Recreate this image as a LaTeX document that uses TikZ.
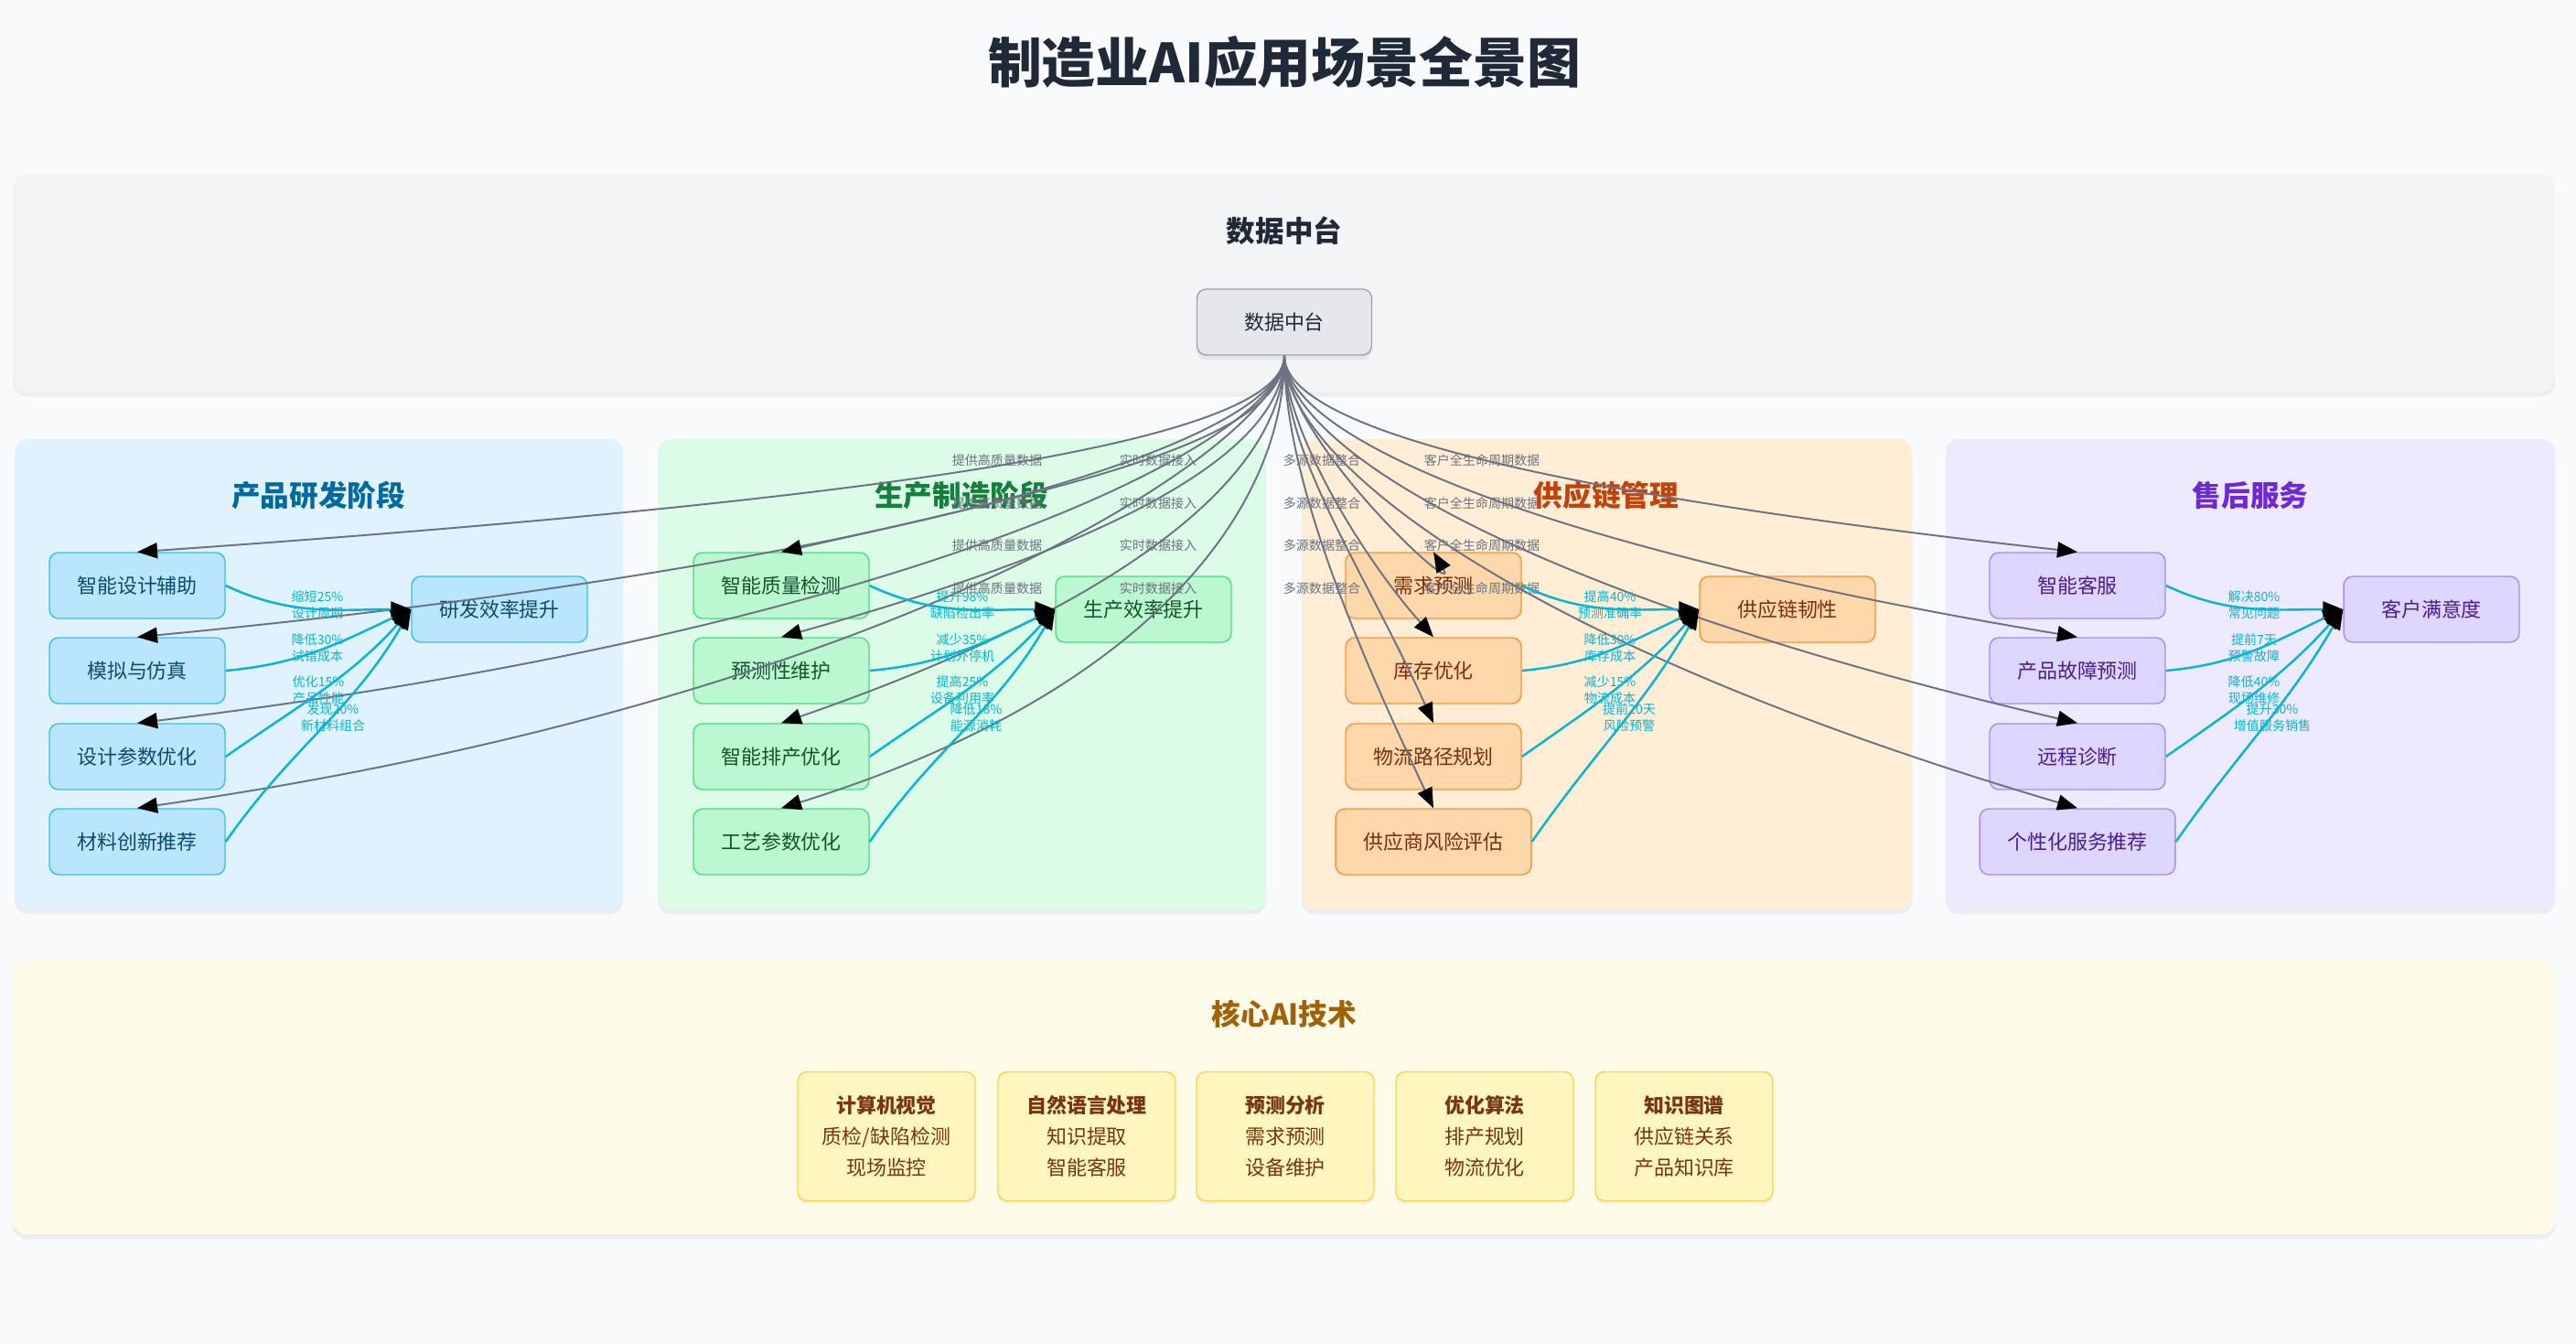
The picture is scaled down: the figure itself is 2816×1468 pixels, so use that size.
\documentclass[tikz,border=0pt]{standalone}
\usepackage{fontspec}
\setmainfont{Noto Sans CJK SC}
\usetikzlibrary{arrows.meta, positioning, shadows}
\definecolor{pagebg}{RGB}{248,250,252}
\definecolor{darkslate}{RGB}{31,41,55}
\definecolor{hubpanel}{RGB}{243,244,246}
\definecolor{hubfill}{RGB}{229,231,235}
\definecolor{hubline}{RGB}{156,163,175}
\definecolor{feedgray}{RGB}{107,114,128}
\definecolor{gaincyan}{RGB}{6,182,212}
\definecolor{rdpanel}{RGB}{224,242,254}
\definecolor{rdfill}{RGB}{186,230,253}
\definecolor{rdline}{RGB}{56,189,248}
\definecolor{rdtitle}{RGB}{3,105,161}
\definecolor{rdtext}{RGB}{12,74,110}
\definecolor{mfpanel}{RGB}{220,252,231}
\definecolor{mffill}{RGB}{187,247,208}
\definecolor{mfline}{RGB}{74,222,128}
\definecolor{mftitle}{RGB}{21,128,61}
\definecolor{mftext}{RGB}{20,83,45}
\definecolor{scpanel}{RGB}{255,237,213}
\definecolor{scfill}{RGB}{254,215,170}
\definecolor{scline}{RGB}{251,146,60}
\definecolor{sctitle}{RGB}{194,65,12}
\definecolor{sctext}{RGB}{124,45,18}
\definecolor{aspanel}{RGB}{237,233,254}
\definecolor{asfill}{RGB}{221,214,254}
\definecolor{asline}{RGB}{167,139,250}
\definecolor{astitle}{RGB}{109,40,217}
\definecolor{astext}{RGB}{76,29,149}
\definecolor{aipanel}{RGB}{254,252,232}
\definecolor{aifill}{RGB}{254,246,190}
\definecolor{ailine}{RGB}{252,211,77}
\definecolor{aititle}{RGB}{161,98,7}
\definecolor{aitext}{RGB}{120,53,15}

\begin{document}
\begin{tikzpicture}[
    % Global Styles
    x=0.02cm, y=-0.02cm,
    % Panel Styles
    panel/.style={
        rounded corners=0.3cm,
        drop shadow={opacity=0.10, shadow xshift=0pt, shadow yshift=-3pt}
    },
    paneltitle/.style={
        font=\fontsize{18}{22}\selectfont\bfseries
    },
    % Node Styles
    scenario/.style={
        rectangle, 
        rounded corners=0.2cm, 
        line width=0.8pt, 
        minimum width=3.84cm, 
        minimum height=1.44cm, 
        inner xsep=0.6cm, 
        font=\fontsize{12.5}{15}\selectfont
    },
    rdbox/.style={scenario, fill=rdfill, draw=rdline, text=rdtext},
    mfbox/.style={scenario, fill=mffill, draw=mfline, text=mftext},
    scbox/.style={scenario, fill=scfill, draw=scline, text=sctext},
    asbox/.style={scenario, fill=asfill, draw=asline, text=astext},
    techbox/.style={
        rectangle, 
        rounded corners=0.2cm, 
        fill=aifill, 
        draw=ailine, 
        line width=0.8pt, 
        minimum width=3.88cm, 
        minimum height=2.82cm, 
        align=center, 
        text=aitext, 
        font=\fontsize{12.5}{19.3}\selectfont,
        drop shadow={opacity=0.10, shadow xshift=0pt, shadow yshift=-2pt}
    },
    % Label Styles
    feedlabel/.style={
        text=feedgray, 
        inner sep=0pt, 
        font=\fontsize{8}{10}\selectfont
    },
    gainlabel/.style={
        text=gaincyan, 
        align=center, 
        inner sep=0pt, 
        font=\fontsize{8}{10.2}\selectfont
    },
    % Connector Styles
    feed/.style={
        draw=feedgray, 
        line width=1.1pt, 
        -{Triangle[length=0.44cm, width=0.34cm, color=black]}
    },
    gain/.style={
        draw=gaincyan, 
        line width=1.4pt, 
        -{Triangle[length=0.44cm, width=0.34cm, color=black]}
    }
]

    % --- Canvas ---
    \useasboundingbox[fill=pagebg] (0,0) rectangle (2816,1468);
    \node[font=\fontsize{33.5}{38}\selectfont\bfseries, text=darkslate] (title) at (1404,68) {制造业AI应用场景全景图};

    % --- Panels ---
    \fill[panel, hubpanel] (14,190) rectangle (2793,428);
    \fill[panel, rdpanel] (16,480) rectangle (681,994);
    \fill[panel, mfpanel] (719,480) rectangle (1384,994);
    \fill[panel, scpanel] (1423,480) rectangle (2090,994);
    \fill[panel, aspanel] (2127,480) rectangle (2793,994);
    \fill[panel, aipanel] (14,1049) rectangle (2793,1349);

    \node[paneltitle, text=darkslate] (hubtitle) at (1404,252) {数据中台};
    \node[paneltitle, text=rdtitle] (rdtitle) at (348,541) {产品研发阶段};
    \node[paneltitle, text=mftitle] (mftitle) at (1051,541) {生产制造阶段};
    \node[paneltitle, text=sctitle] (sctitle) at (1756,541) {供应链管理};
    \node[paneltitle, text=astitle] (astitle) at (2460,541) {售后服务};
    \node[paneltitle, text=aititle] (aititle) at (1404,1108) {核心AI技术};

    % --- Data Hub ---
    \node[scenario, fill=hubfill, draw=hubline, text=darkslate, minimum width=3.82cm,
        drop shadow={opacity=0.12, shadow xshift=0pt, shadow yshift=-3pt}] (d0) at (1404,352) {数据中台};

    % --- Stage 1: R&D ---
    \node[rdbox] (s1a) at (150,640) {智能设计辅助};
    \node[rdbox] (s1b) at (150,733) {模拟与仿真};
    \node[rdbox] (s1c) at (150,827) {设计参数优化};
    \node[rdbox] (s1d) at (150,920) {材料创新推荐};
    \node[rdbox] (r1) at (546,666) {研发效率提升};

    % --- Stage 2: Manufacturing ---
    \node[mfbox] (s2a) at (854,640) {智能质量检测};
    \node[mfbox] (s2b) at (854,733) {预测性维护};
    \node[mfbox] (s2c) at (854,827) {智能排产优化};
    \node[mfbox] (s2d) at (854,920) {工艺参数优化};
    \node[mfbox] (r2) at (1250,666) {生产效率提升};

    % --- Stage 3: Supply Chain ---
    \node[scbox] (s3a) at (1567,640) {需求预测};
    \node[scbox] (s3b) at (1567,733) {库存优化};
    \node[scbox] (s3c) at (1567,827) {物流路径规划};
    \node[scbox] (s3d) at (1567,920) {供应商风险评估};
    \node[scbox] (r3) at (1954,666) {供应链韧性};

    % --- Stage 4: After-sales ---
    \node[asbox] (s4a) at (2271,640) {智能客服};
    \node[asbox] (s4b) at (2271,733) {产品故障预测};
    \node[asbox] (s4c) at (2271,827) {远程诊断};
    \node[asbox] (s4d) at (2271,920) {个性化服务推荐};
    \node[asbox] (r4) at (2658,666) {客户满意度};

    % --- Core AI ---
    \node[techbox] (t1) at (969,1242) {\textbf{计算机视觉}\\质检/缺陷检测\\现场监控};
    \node[techbox] (t2) at (1188,1242) {\textbf{自然语言处理}\\知识提取\\智能客服};
    \node[techbox] (t3) at (1405,1242) {\textbf{预测分析}\\需求预测\\设备维护};
    \node[techbox] (t4) at (1623,1242) {\textbf{优化算法}\\排产规划\\物流优化};
    \node[techbox] (t5) at (1841,1242) {\textbf{知识图谱}\\供应链关系\\产品知识库};

    % --- Data feeds ---
    \draw[feed] (d0.south) .. controls (1404,480) and (1000,544) .. (s1a.north);
    \draw[feed] (d0.south) .. controls (1404,480) and (1000,615) .. (s1b.north);
    \draw[feed] (d0.south) .. controls (1404,480) and (1000,688) .. (s1c.north);
    \draw[feed] (d0.south) .. controls (1404,480) and (1000,761) .. (s1d.north);
    \draw[feed] (d0.south) .. controls (1404,480) and (1180,530) .. (s2a.north);
    \draw[feed] (d0.south) .. controls (1404,500) and (1200,600) .. (s2b.north);
    \draw[feed] (d0.south) .. controls (1404,520) and (1230,660) .. (s2c.north);
    \draw[feed] (d0.south) .. controls (1404,560) and (1250,760) .. (s2d.north);
    \draw[feed] (d0.south) .. controls (1404,480) and (1600,660) .. (s3a.north);
    \draw[feed] (d0.south) .. controls (1404,470) and (1490,610) .. (s3b.north);
    \draw[feed] (d0.south) .. controls (1404,500) and (1490,620) .. (s3c.north);
    \draw[feed] (d0.south) .. controls (1404,520) and (1480,700) .. (s3d.north);
    \draw[feed] (d0.south) .. controls (1404,470) and (1700,540) .. (s4a.north);
    \draw[feed] (d0.south) .. controls (1404,480) and (1690,600) .. (s4b.north);
    \draw[feed] (d0.south) .. controls (1404,490) and (1670,650) .. (s4c.north);
    \draw[feed] (d0.south) .. controls (1404,500) and (1650,700) .. (s4d.north);

    \node[feedlabel] (q1a) at (1090,503) {提供高质量数据};
    \node[feedlabel] (q1b) at (1090,550) {提供高质量数据};
    \node[feedlabel] (q1c) at (1090,596) {提供高质量数据};
    \node[feedlabel] (q1d) at (1090,643) {提供高质量数据};
    \node[feedlabel] (q2a) at (1266,503) {实时数据接入};
    \node[feedlabel] (q2b) at (1266,550) {实时数据接入};
    \node[feedlabel] (q2c) at (1266,596) {实时数据接入};
    \node[feedlabel] (q2d) at (1266,643) {实时数据接入};
    \node[feedlabel] (q3a) at (1445,503) {多源数据整合};
    \node[feedlabel] (q3b) at (1445,550) {多源数据整合};
    \node[feedlabel] (q3c) at (1445,596) {多源数据整合};
    \node[feedlabel] (q3d) at (1445,643) {多源数据整合};
    \node[feedlabel] (q4a) at (1620,503) {客户全生命周期数据};
    \node[feedlabel] (q4b) at (1620,550) {客户全生命周期数据};
    \node[feedlabel] (q4c) at (1620,596) {客户全生命周期数据};
    \node[feedlabel] (q4d) at (1620,643) {客户全生命周期数据};

    % --- Gains: R&D ---
    \draw[gain] (s1a.east) to[out=-25, in=180] (r1.west);
    \draw[gain] (s1b.east) to[out=5, in=205] (r1.west);
    \draw[gain] (s1c.east) to[out=35, in=228] (r1.west);
    \draw[gain] (s1d.east) to[out=55, in=240] (r1.west);
    \node[gainlabel] (k1a) at (347,661) {缩短25\%\\设计周期};
    \node[gainlabel] (k1b) at (347,708) {降低30\%\\试错成本};
    \node[gainlabel] (k1c) at (348,754) {优化15\%\\产品性能};
    \node[gainlabel] (k1d) at (364,784) {发现20\%\\新材料组合};

    % --- Gains: Manufacturing ---
    \draw[gain] (s2a.east) to[out=-25, in=180] (r2.west);
    \draw[gain] (s2b.east) to[out=5, in=205] (r2.west);
    \draw[gain] (s2c.east) to[out=35, in=228] (r2.west);
    \draw[gain] (s2d.east) to[out=55, in=240] (r2.west);
    \node[gainlabel] (k2a) at (1052,661) {提升98\%\\缺陷检出率};
    \node[gainlabel] (k2b) at (1052,708) {减少35\%\\计划外停机};
    \node[gainlabel] (k2c) at (1052,754) {提高25\%\\设备利用率};
    \node[gainlabel] (k2d) at (1067,784) {降低18\%\\能源消耗};

    % --- Gains: Supply Chain ---
    \draw[gain] (s3a.east) to[out=-25, in=180] (r3.west);
    \draw[gain] (s3b.east) to[out=5, in=205] (r3.west);
    \draw[gain] (s3c.east) to[out=35, in=228] (r3.west);
    \draw[gain] (s3d.east) to[out=55, in=240] (r3.west);
    \node[gainlabel] (k3a) at (1760,661) {提高40\%\\预测准确率};
    \node[gainlabel] (k3b) at (1760,708) {降低30\%\\库存成本};
    \node[gainlabel] (k3c) at (1760,754) {减少15\%\\物流成本};
    \node[gainlabel] (k3d) at (1781,784) {提前20天\\风险预警};

    % --- Gains: After-sales ---
    \draw[gain] (s4a.east) to[out=-25, in=180] (r4.west);
    \draw[gain] (s4b.east) to[out=5, in=205] (r4.west);
    \draw[gain] (s4c.east) to[out=35, in=228] (r4.west);
    \draw[gain] (s4d.east) to[out=55, in=240] (r4.west);
    \node[gainlabel] (k4a) at (2464,661) {解决80\%\\常见问题};
    \node[gainlabel] (k4b) at (2464,708) {提前7天\\预警故障};
    \node[gainlabel] (k4c) at (2464,754) {降低40\%\\现场维修};
    \node[gainlabel] (k4d) at (2484,784) {提升30\%\\增值服务销售};

\end{tikzpicture}
\end{document}
